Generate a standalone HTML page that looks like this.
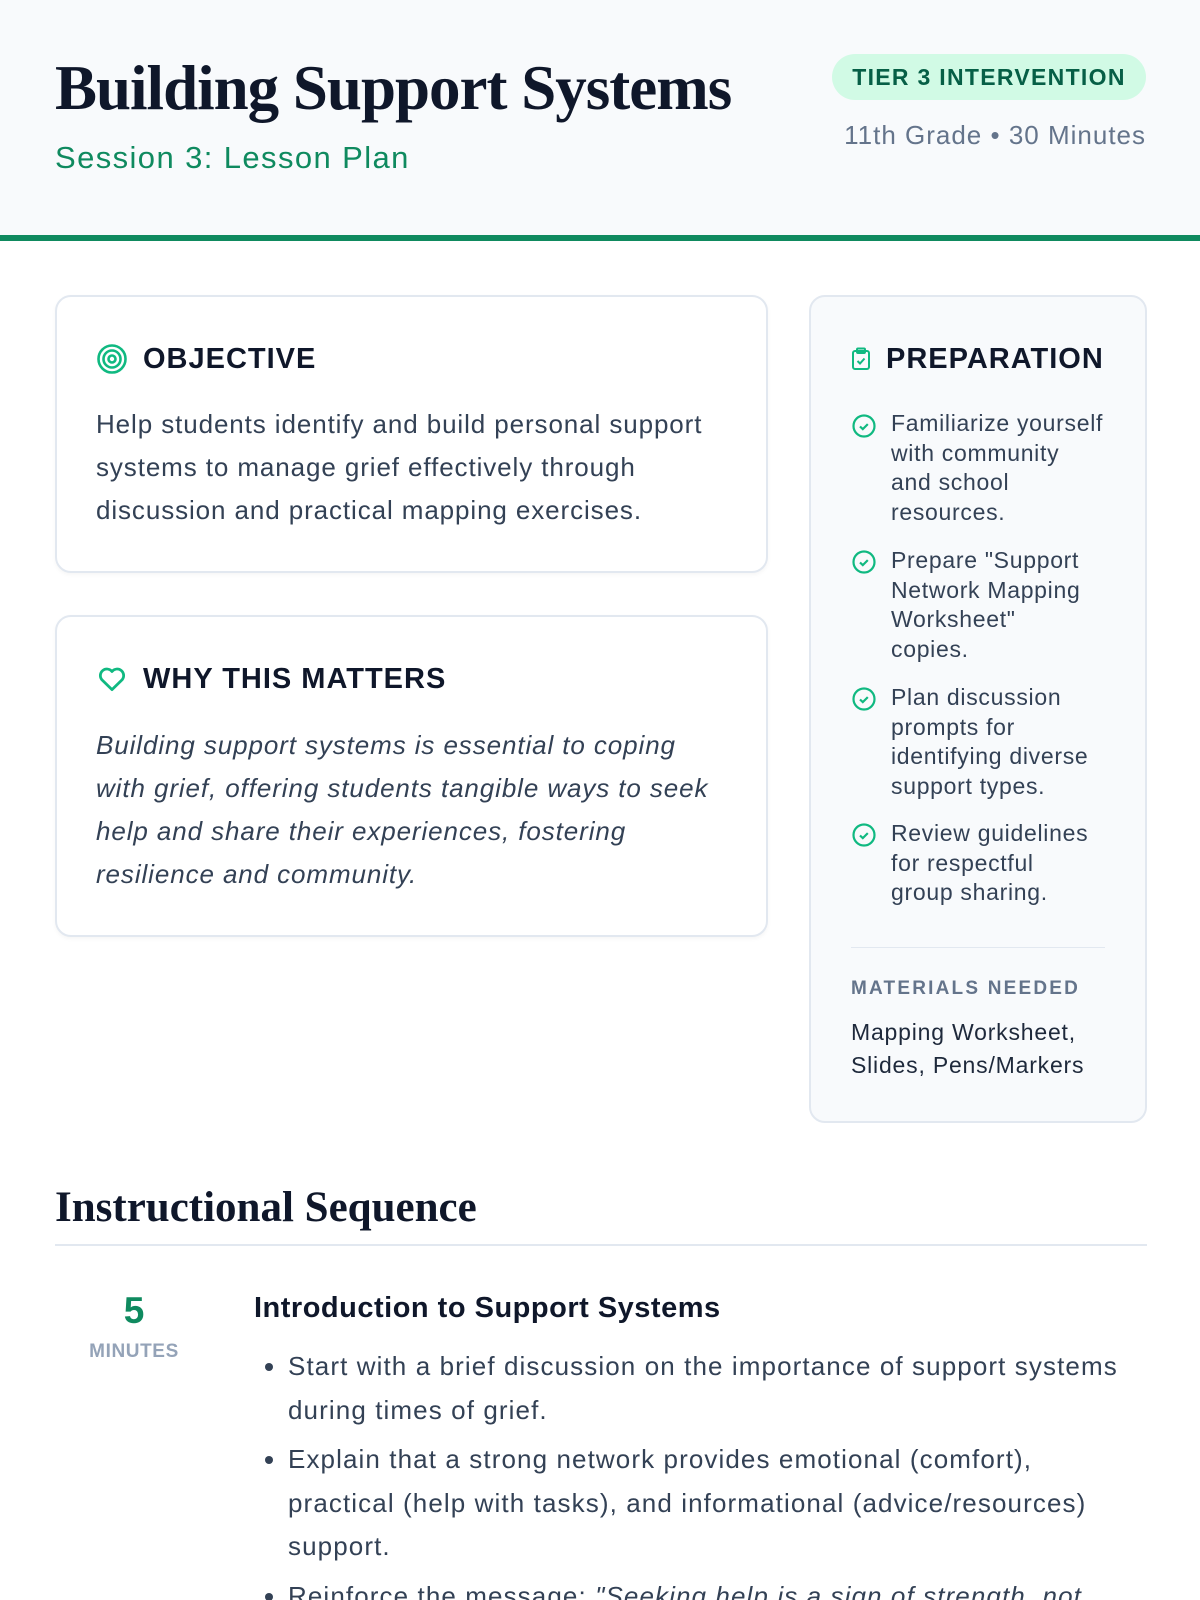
<!DOCTYPE html>
<html style="width:1200px;height:1600px;overflow:hidden"><head><meta charset="utf-8"><style>
*{margin:0;padding:0;box-sizing:border-box}
body{width:1200px;height:1600px;overflow:hidden;background:#fff;font-family:"Liberation Sans",sans-serif;color:#1e293b;position:relative}
.abs{position:absolute}
.hdr{left:0;top:0;width:1200px;height:241px;background:#f8fafc;border-bottom:6px solid #0f8a5f}
h1{position:absolute;left:55px;top:52px;font-family:"Liberation Serif",serif;font-weight:700;font-size:63px;color:#0f172a;letter-spacing:-1px;white-space:nowrap}
.sub{left:55px;top:140px;font-size:31px;letter-spacing:1.4px;color:#0f8a5f;white-space:nowrap}
.badge{left:832px;top:54px;width:314px;height:46px;border-radius:23px;background:#d1fae5;color:#065f46;font-weight:700;font-size:23px;letter-spacing:1.3px;text-align:center;line-height:46px}
.meta{right:54px;top:120px;font-size:26px;letter-spacing:1px;color:#64748b;white-space:nowrap}
.card{border:2px solid #e2e8f0;border-radius:16px;background:#fff;box-shadow:0 2px 4px rgba(0,0,0,.04)}
.ch{font-size:29px;font-weight:700;letter-spacing:1px;color:#0f172a;white-space:nowrap}
.txt{font-size:26px;letter-spacing:0.9px;line-height:43px;color:#334155;white-space:nowrap}
.prep{background:#f8fafc}
.item{left:891px;font-size:23px;letter-spacing:0.7px;line-height:29.5px;color:#334155;white-space:nowrap}
.chk{left:852px;width:24px;height:24px}
</style></head><body>
<div class="abs hdr"></div>
<h1>Building Support Systems</h1>
<div class="abs sub">Session 3: Lesson Plan</div>
<div class="abs badge">TIER 3 INTERVENTION</div>
<div class="abs meta">11th Grade • 30 Minutes</div>

<div class="abs card" style="left:55px;top:295px;width:713px;height:278px"></div>
<svg class="abs" style="left:96px;top:343px" width="32" height="32" viewBox="0 0 32 32" fill="none" stroke="#10b981" stroke-width="2.6"><circle cx="16" cy="16" r="13.5"/><circle cx="16" cy="16" r="8.5"/><circle cx="16" cy="16" r="3.5"/></svg>
<div class="abs ch" style="left:143px;top:343px">OBJECTIVE</div>
<div class="abs txt" style="left:96px;top:403px">Help students identify and build personal support<br>systems to manage grief effectively through<br>discussion and practical mapping exercises.</div>

<div class="abs card" style="left:55px;top:615px;width:713px;height:322px"></div>
<svg class="abs" style="left:96px;top:664px" width="32" height="30" viewBox="0 0 24 24" fill="none" stroke="#10b981" stroke-width="2.2" stroke-linejoin="round"><path d="M12 20.5 3.8 12.5A5 5 0 0 1 12 6a5 5 0 0 1 8.2 6.5Z"/></svg>
<div class="abs ch" style="left:143px;top:663px">WHY THIS MATTERS</div>
<div class="abs txt" style="left:96px;top:724px;font-style:italic">Building support systems is essential to coping<br>with grief, offering students tangible ways to seek<br>help and share their experiences, fostering<br>resilience and community.</div>

<div class="abs card prep" style="left:809px;top:295px;width:338px;height:828px;box-shadow:none"></div>
<svg class="abs" style="left:851px;top:347px" width="20" height="24" viewBox="0 0 20 24" fill="none" stroke="#10b981" stroke-width="2"><rect x="2" y="4" width="16" height="18" rx="2"/><rect x="6" y="1.5" width="8" height="4.5" rx="1"/><path d="M6.5 14l2.5 2.5 4.5-5"/></svg>
<div class="abs ch" style="left:886px;top:343px">PREPARATION</div>

<svg class="abs chk" style="top:414px" viewBox="0 0 24 24" fill="none" stroke="#10b981" stroke-width="2.2"><circle cx="12" cy="12" r="10.5"/><path d="M8 12.5l2.8 2.6 5-5"/></svg>
<div class="abs item" style="top:409px">Familiarize yourself<br>with community<br>and school<br>resources.</div>
<svg class="abs chk" style="top:550px" viewBox="0 0 24 24" fill="none" stroke="#10b981" stroke-width="2.2"><circle cx="12" cy="12" r="10.5"/><path d="M8 12.5l2.8 2.6 5-5"/></svg>
<div class="abs item" style="top:546px">Prepare "Support<br>Network Mapping<br>Worksheet"<br>copies.</div>
<svg class="abs chk" style="top:687px" viewBox="0 0 24 24" fill="none" stroke="#10b981" stroke-width="2.2"><circle cx="12" cy="12" r="10.5"/><path d="M8 12.5l2.8 2.6 5-5"/></svg>
<div class="abs item" style="top:683px">Plan discussion<br>prompts for<br>identifying diverse<br>support types.</div>
<svg class="abs chk" style="top:823px" viewBox="0 0 24 24" fill="none" stroke="#10b981" stroke-width="2.2"><circle cx="12" cy="12" r="10.5"/><path d="M8 12.5l2.8 2.6 5-5"/></svg>
<div class="abs item" style="top:819px">Review guidelines<br>for respectful<br>group sharing.</div>

<div class="abs" style="left:851px;top:947px;width:254px;height:1px;background:#e2e8f0"></div>
<div class="abs" style="left:851px;top:978px;font-size:19px;font-weight:700;letter-spacing:2.2px;color:#64748b">MATERIALS NEEDED</div>
<div class="abs" style="left:851px;top:1016px;font-size:23px;letter-spacing:0.8px;line-height:33px;color:#1e293b;white-space:nowrap">Mapping Worksheet,<br>Slides, Pens/Markers</div>

<div class="abs" style="left:55px;top:1183px;font-family:'Liberation Serif',serif;font-weight:700;font-size:43px;color:#0f172a;white-space:nowrap">Instructional Sequence</div>
<div class="abs" style="left:55px;top:1244px;width:1092px;height:2px;background:#e2e8f0"></div>

<div class="abs" style="left:84px;top:1290px;width:100px;text-align:center;font-size:37px;font-weight:700;color:#0f8a5f">5</div>
<div class="abs" style="left:74px;top:1341px;width:120px;text-align:center;font-size:19px;letter-spacing:0.6px;font-weight:700;color:#94a3b8">MINUTES</div>
<div class="abs" style="left:254px;top:1292px;font-size:29px;letter-spacing:0.5px;font-weight:700;color:#0f172a;white-space:nowrap">Introduction to Support Systems</div>
<ul class="abs" style="left:288px;top:1345px;width:880px;font-size:26px;letter-spacing:1.1px;line-height:43.5px;color:#334155;padding-left:0;white-space:nowrap">
<li style="margin-bottom:6px">Start with a brief discussion on the importance of support systems<br>during times of grief.</li>
<li style="margin-bottom:6px">Explain that a strong network provides emotional (comfort),<br>practical (help with tasks), and informational (advice/resources)<br>support.</li>
<li>Reinforce the message: <i>"Seeking help is a sign of strength, not</i></li>
</ul>
</body></html>
